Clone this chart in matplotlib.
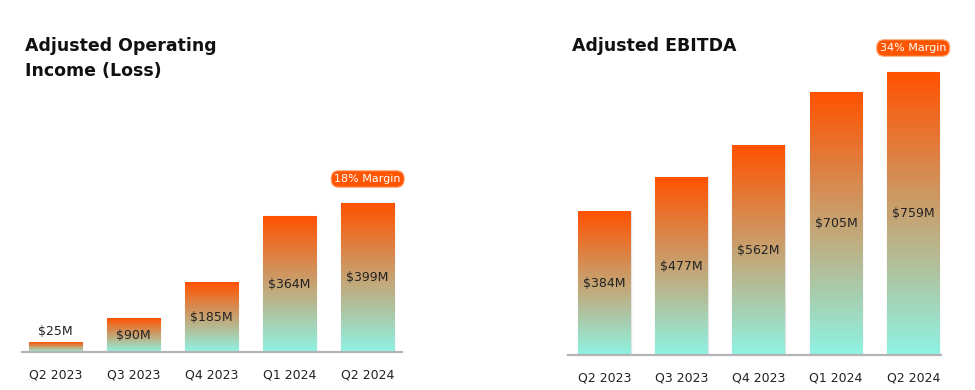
import numpy as np
import matplotlib.pyplot as plt
from matplotlib.colors import LinearSegmentedColormap

quarters = ["Q2 2023", "Q3 2023", "Q4 2023", "Q1 2024", "Q2 2024"]
op_income = [25, 90, 185, 364, 399]
ebitda = [384, 477, 562, 705, 759]
op_title = "Adjusted Operating\nIncome (Loss)"
ebitda_title = "Adjusted EBITDA"
op_margin = "18% Margin"
ebitda_margin = "34% Margin"

W, H = 975, 390
ORANGE = "#ff5200"
AQUA = "#8ef3e3"
cmap = LinearSegmentedColormap.from_list("grad", [AQUA, ORANGE])
grad = np.linspace(0, 1, 256).reshape(-1, 1)

fig = plt.figure(figsize=(W / 100, H / 100), dpi=100)


def make_axes(left_px, right_px, base_px, scale):
    # base_px: baseline distance from top; scale: millions per pixel
    bottom = H - base_px
    top = H - 8
    ax = fig.add_axes([left_px / W, bottom / H, (right_px - left_px) / W, (top - bottom) / H])
    ax.set_ylim(0, (top - bottom) * scale)
    return ax


def draw_panel(ax, values, title, margin, xlim, title_x):
    width = 0.68
    ax.set_xlim(*xlim)
    for i, v in enumerate(values):
        ax.bar(i, v, width=width, facecolor="none", edgecolor="#e4e4e4", linewidth=1.0, zorder=1)
        ax.imshow(grad, cmap=cmap, origin="lower", aspect="auto",
                  extent=(i - width / 2, i + width / 2, 0, v), zorder=2)
        label = f"${v}M"
        if v < 60:
            ax.annotate(label, (i, v), xytext=(0, 11), textcoords="offset pixels",
                        ha="center", va="center", fontsize=9, color="#222222")
        else:
            ax.text(i, v / 2, label, ha="center", va="center", fontsize=9, color="#222222", zorder=4)
    ax.set_xlim(*xlim)
    ax.set_aspect("auto")
    for s in ["top", "right", "left"]:
        ax.spines[s].set_visible(False)
    ax.spines["bottom"].set_color("#b4b4b4")
    ax.spines["bottom"].set_linewidth(1.6)
    ax.spines["bottom"].set_zorder(5)
    ax.set_yticks([])
    ax.set_xticks(range(len(values)))
    ax.set_xticklabels(quarters, fontsize=9, color="#222222")
    ax.tick_params(axis="x", length=0, pad=12)
    ax.annotate(margin, (len(values) - 1, values[-1]), xytext=(0, 24), textcoords="offset pixels",
                ha="center", va="center", fontsize=8, color="white", zorder=5,
                bbox=dict(boxstyle="round,pad=0.3,rounding_size=0.7", fc="#ff5500", ec="#ffb08a", lw=0.8))
    fig.text(title_x / W, 1 - 37 / H, title, ha="left", va="top", fontsize=12.5, fontweight="bold",
             color="#111111", linespacing=1.5)


ax1 = make_axes(22, 402, 352, 399 / 149)
draw_panel(ax1, op_income, op_title, op_margin, (-0.43, 4.44), 25)

ax2 = make_axes(568, 941, 355, 759 / 283)
draw_panel(ax2, ebitda, ebitda_title, ebitda_margin, (-0.47, 4.36), 572)

fig.savefig("out.png", dpi=100)
